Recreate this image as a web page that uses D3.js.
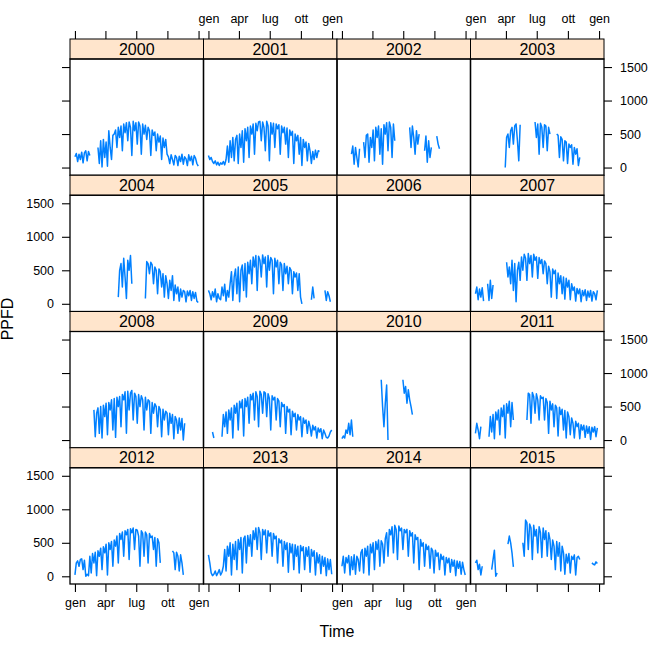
<!DOCTYPE html>
<html><head><meta charset="utf-8">
<script src="https://cdn.jsdelivr.net/npm/d3@7"></script>
<style>
body{margin:0;background:#fff}
svg{display:block}
text{font-family:"Liberation Sans",Arial,Helvetica,sans-serif;fill:#000}
</style>
</head><body>
<svg id="c" width="655" height="648"></svg>
<script>
const _ = null;
const years = [2000,2001,2002,2003,2004,2005,2006,2007,2008,2009,2010,2011,2012,2013,2014,2015];
const stepDays = 4; // one value every 4 days, starting 1 January
const monthTickDays = [0, 90, 181, 273, 365];
const monthTickLabels = ["gen","apr","lug","ott","gen"];
const yTickValues = [0, 500, 1000, 1500];

const y2000 = [160,210,90,200,120,230,70,220,250,100,240,180,_,_,_,_,_,300,60,400,10,420,150,380,20,550,300,120,480,500,
560,300,600,450,620,250,650,520,670,400,680,600,180,690,550,670,350,680,620,200,650,500,630,
420,600,550,180,560,480,530,250,500,380,470,120,440,300,420,200,
160,60,190,120,40,180,150,30,170,90,200,50,160,130,30,190,100,170,40,180,140,60,20];
const y2001 = [180,120,150,90,60,100,40,80,30,70,50,90,40,120,320,80,400,150,
450,100,420,480,60,500,300,550,80,580,400,600,150,620,500,650,200,660,550,680,
690,400,680,600,250,690,620,100,670,500,660,300,650,580,640,200,620,520,
600,350,590,150,560,480,540,60,500,400,480,200,450,30,420,300,380,100,360,250,
60,240,120,260,150,250,240,_,_,_,_,_,_,_,_,_];
const y2002 = [_,_,_,_,_,_,_,200,320,50,300,150,10,280,_,_,
380,150,480,500,80,450,300,560,100,600,450,620,200,580,50,640,500,670,250,680,600,150,650,400,
_,_,_,_,_,_,_,_,_,_,600,300,620,450,200,550,350,500,_,_,_,250,470,80,400,150,300,_,_,_,470,350,280,
_,_,_,_,_,_,_,_,_,_,_,_,_,_,_,_,_,_,_];
const y2003 = [_,_,_,_,_,_,_,_,_,_,_,_,_,_,_,_,_,_,_,_,_,_,
0,450,500,300,550,600,350,620,650,400,100,640,_,_,_,_,_,_,_,_,_,_,
680,450,650,200,660,600,300,640,620,250,600,500,_,_,_,_,
500,480,150,460,420,100,400,380,60,350,300,340,50,300,200,280,30,150,
_,_,_,_,_,_,_,_,_,_,_,_,_,_];
const y2004 = [_,_,_,_,_,_,_,_,_,_,_,_,_,_,_,_,_,_,_,_,_,_,_,_,_,_,_,_,_,_,_,_,
100,500,600,250,680,400,80,650,500,720,300,_,_,_,_,_,_,_,_,_,
80,630,600,450,620,580,300,550,500,150,520,480,250,450,100,420,300,
80,350,200,420,50,280,150,250,40,220,100,200,180,30,190,120,200,50,180,80,170,40,20];
const y2005 = [200,150,60,180,100,220,30,150,80,60,250,120,290,40,200,100,300,
480,50,400,520,150,550,30,500,580,200,600,100,620,450,650,
300,700,550,720,200,710,650,400,730,600,700,250,720,500,690,650,150,680,550,650,300,620,580,200,600,450,
560,300,540,500,150,480,400,460,200,450,100,0,_,_,_,_,_,_,60,250,80,_,_,_,_,_,_,_,200,50,180,120,30,_];
const y2006 = [];
const y2007 = [150,250,60,220,100,240,40,_,_,300,50,350,80,280,_,_,_,_,_,_,_,_,_,
620,400,550,300,650,200,600,30,500,620,350,
700,500,740,680,350,750,600,720,400,740,650,700,380,690,600,660,450,640,
600,300,560,480,100,520,450,500,80,460,300,420,150,400,70,380,250,350,
60,300,200,250,40,230,150,220,30,200,120,210,50,190,100,200,40,180,150,60,200,_];
const y2008 = [_,_,_,_,_,_,_,_,_,_,_,_,_,_,
450,50,400,480,100,500,30,520,350,550,80,560,450,600,150,620,40,640,500,650,200,680,
600,720,100,730,450,700,740,
300,700,650,250,680,500,660,600,150,640,450,600,580,100,560,400,540,500,
200,500,450,50,460,300,430,400,80,400,250,380,20,350,300,100,330,150,320,0,250,
_,_,_,_,_,_,_,_,_,_];
const y2009 = [_,_,_,120,30,_,_,_,_,_,
50,380,200,420,100,450,300,480,30,520,400,550,150,580,480,600,60,620,500,640,
250,680,600,700,300,720,650,200,730,680,400,720,700,350,690,620,150,660,600,640,300,
620,580,200,560,500,530,100,500,420,460,80,430,350,400,150,380,300,350,50,330,250,300,100,
280,200,60,220,150,200,30,180,120,170,20,150,100,40,30,60,120,150];
const y2010 = [20,60,30,150,100,250,80,300,50,_,_,_,_,_,_,_,_,_,_,_,_,_,_,_,_,_,_,_,_,
900,500,200,550,820,0,_,_,_,_,_,_,_,_,_,_,
900,700,800,550,750,600,500,380];
const y2011 = [100,250,150,20,200,_,_,_,_,_,
50,350,120,380,20,420,300,450,80,480,350,520,30,540,400,580,200,560,300,_,_,_,_,_,_,_,_,_,
300,700,680,250,710,650,400,690,600,300,660,620,
640,300,620,560,100,580,450,540,200,520,480,60,490,380,460,150,440,30,420,350,
80,330,250,30,280,200,250,20,230,150,220,40,210,100,200,10,190,120,200,50,180,_];
const y2012 = [20,200,230,150,250,260,100,240,0,30,10,
300,50,340,200,360,10,380,300,420,100,440,350,480,20,500,400,520,150,540,450,
600,200,640,550,660,300,680,620,700,250,710,650,720,400,700,
690,600,150,680,640,300,660,620,200,640,580,600,400,580,150,560,500,200,
_,_,_,_,_,_,_,_,380,350,100,360,300,80,320,200,20,_,_,_,_,_,_,_,_,_,_,_];
const y2013 = [320,200,50,10,30,80,10,50,100,20,60,150,
400,80,450,300,500,20,480,250,520,100,550,400,580,50,560,600,200,610,450,620,
300,680,550,720,400,730,650,250,700,620,690,350,680,600,650,300,640,560,600,
200,560,500,540,150,520,400,500,60,490,350,480,100,470,300,450,50,460,380,440,100,430,300,
440,60,400,300,380,20,350,200,320,40,300,150,280,10,260,100,250,30];
const y2014 = [150,300,50,280,200,310,20,290,100,320,30,300,250,80,350,
400,50,420,300,450,20,480,350,500,100,520,400,540,150,530,480,200,560,
650,300,700,620,740,350,760,700,250,750,680,720,400,700,650,
700,300,680,600,650,200,620,550,580,100,550,450,500,150,480,400,450,120,
420,380,50,390,300,350,100,330,250,300,20,280,200,270,60,250,150,240,10,230,120,220,30,210,100,20];
const y2015 = [200,240,100,180,20,150,_,_,_,_,_,_,100,250,390,0,50,_,_,_,_,_,_,_,
480,600,500,350,140,_,_,_,_,_,_,
500,300,840,800,400,780,720,250,760,600,700,350,740,650,280,720,550,680,300,650,
550,250,540,450,100,520,300,500,80,450,
350,30,330,200,340,50,300,250,320,20,280,300,250,_,_,_,_,_,_,_,_,200,180,170,215,190,_];

const seriesByYear = [y2000,y2001,y2002,y2003,y2004,y2005,y2006,y2007,
                      y2008,y2009,y2010,y2011,y2012,y2013,y2014,y2015];

// ---- layout ----
const gridLeft = 70, gridRight = 604, gridTop = 39, gridBottom = 584;
const nCols = 4, nRows = 4;
const cellW = (gridRight - gridLeft) / nCols;
const cellH = (gridBottom - gridTop) / nRows;
const stripH = 20;
const xDomain = [-14.6, 379.6];
const yDomain = [-115, 1620];
const tickLen = 8;
const tickFont = 12.5;

const svg = d3.select("#c");

function styleAxis(sel) {
  sel.select(".domain").remove();
  sel.selectAll(".tick line").attr("stroke", "#000").attr("stroke-width", 1.1);
  sel.selectAll(".tick text").attr("font-size", tickFont).attr("fill", "#000")
     .attr("font-family", '"Liberation Sans",Arial,sans-serif');
}

years.forEach((yr, k) => {
  const col = k % nCols, row = Math.floor(k / nCols);
  const x0 = gridLeft + col * cellW, x1 = x0 + cellW;
  const t0 = gridTop + row * cellH, pTop = t0 + stripH, pBot = t0 + cellH;
  const x = d3.scaleLinear().domain(xDomain).range([x0, x1]);
  const y = d3.scaleLinear().domain(yDomain).range([pBot, pTop]);
  const g = svg.append("g");

  // data line
  const pts = seriesByYear[k].map((v, i) => ({ day: i * stepDays, v }));
  const clipId = "clip" + k;
  g.append("clipPath").attr("id", clipId).append("rect")
    .attr("x", x0).attr("y", pTop).attr("width", cellW).attr("height", pBot - pTop);
  g.append("path").datum(pts)
    .attr("clip-path", `url(#${clipId})`)
    .attr("d", d3.line().defined(p => p.v != null).x(p => x(p.day)).y(p => y(p.v)))
    .attr("fill", "none").attr("stroke", "#0080ff").attr("stroke-width", 1.5)
    .attr("stroke-linejoin", "round");

  // strip
  g.append("rect").attr("x", x0).attr("y", t0).attr("width", cellW).attr("height", stripH)
    .attr("fill", "#ffe5cc").attr("stroke", "#000").attr("stroke-width", 1);
  g.append("text").attr("x", (x0 + x1) / 2).attr("y", t0 + 15.5)
    .attr("text-anchor", "middle").attr("font-size", 16).text(String(yr));

  // panel border
  g.append("rect").attr("x", x0).attr("y", pTop).attr("width", cellW).attr("height", pBot - pTop)
    .attr("fill", "none").attr("stroke", "#000").attr("stroke-width", 1.3);

  // axes (lattice alternating)
  if (row === 0) {
    const a = g.append("g").attr("transform", `translate(0,${t0})`)
      .call(d3.axisTop(x).tickValues(monthTickDays).tickSize(tickLen).tickPadding(8)
        .tickFormat((d, i) => (col % 2 === 1 ? monthTickLabels[i] : "")));
    styleAxis(a);
  }
  if (row === nRows - 1) {
    const a = g.append("g").attr("transform", `translate(0,${pBot})`)
      .call(d3.axisBottom(x).tickValues(monthTickDays).tickSize(tickLen).tickPadding(6)
        .tickFormat((d, i) => (col % 2 === 0 ? monthTickLabels[i] : "")));
    styleAxis(a);
  }
  if (col === 0) {
    const a = g.append("g").attr("transform", `translate(${x0},0)`)
      .call(d3.axisLeft(y).tickValues(yTickValues).tickSize(tickLen).tickPadding(8)
        .tickFormat(d => (row % 2 === 1 ? String(d) : "")));
    styleAxis(a);
  }
  if (col === nCols - 1) {
    const a = g.append("g").attr("transform", `translate(${x1},0)`)
      .call(d3.axisRight(y).tickValues(yTickValues).tickSize(tickLen).tickPadding(8)
        .tickFormat(d => (row % 2 === 0 ? String(d) : "")));
    styleAxis(a);
  }
});

// axis titles
svg.append("text").attr("x", (gridLeft + gridRight) / 2).attr("y", 637)
  .attr("text-anchor", "middle").attr("font-size", 16).text("Time");
svg.append("text").attr("transform", "translate(13,319) rotate(-90)")
  .attr("text-anchor", "middle").attr("font-size", 16).text("PPFD");
</script>
</body></html>
